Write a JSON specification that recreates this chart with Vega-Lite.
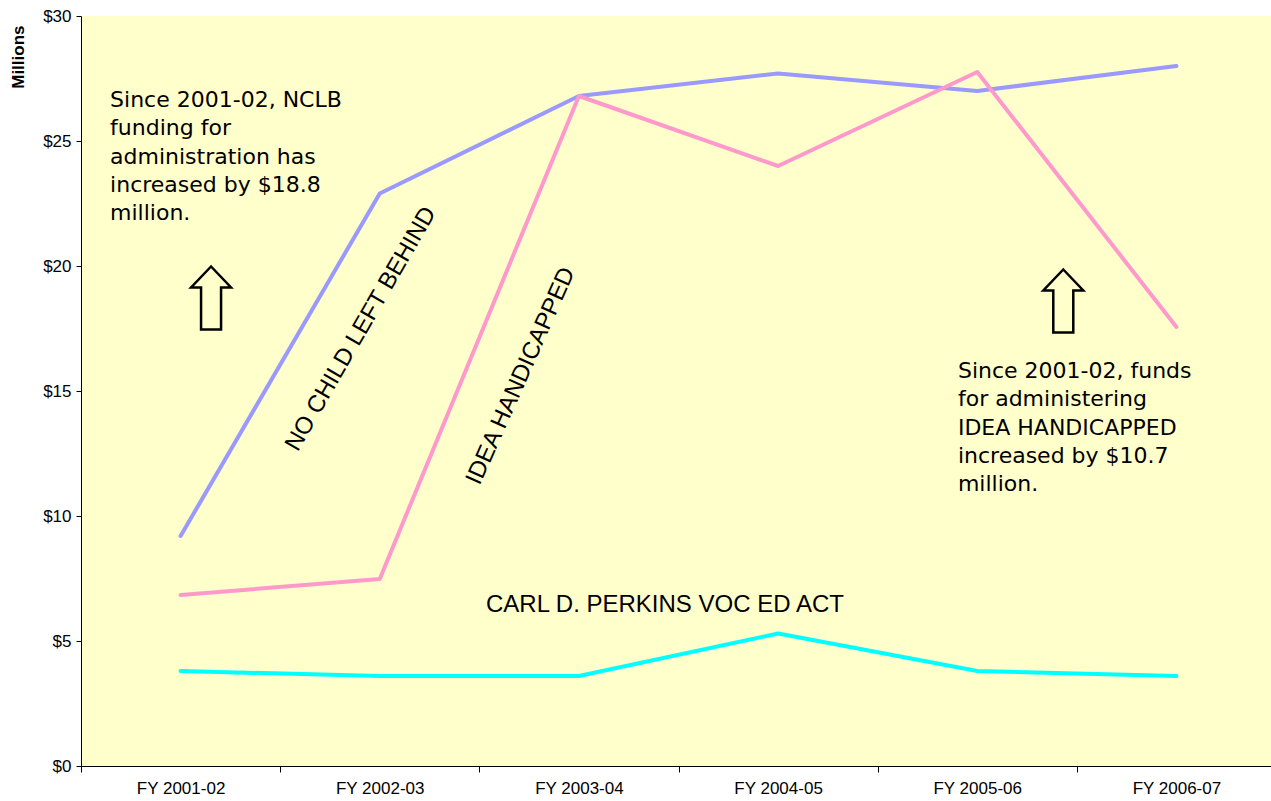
{
  "$schema": "https://vega.github.io/schema/vega-lite/v6.json",
  "width": 1190,
  "height": 750,
  "autosize": {"type": "none"},
  "padding": {"left": 81, "top": 16, "right": 0, "bottom": 35},
  "background": "white",
  "config": {
    "view": {"fill": "#FFFFCC", "stroke": null},
    "axis": {"labelFont": "Liberation Sans", "titleFont": "Liberation Sans", "labelColor": "black", "titleColor": "black", "domainColor": "black", "tickColor": "black", "domainWidth": 1, "tickWidth": 1, "grid": false}
  },
  "datasets": {
    "series": [
      {"year": "FY 2001-02", "program": "CARL D. PERKINS VOC ED ACT", "value": 3.8},
      {"year": "FY 2002-03", "program": "CARL D. PERKINS VOC ED ACT", "value": 3.6},
      {"year": "FY 2003-04", "program": "CARL D. PERKINS VOC ED ACT", "value": 3.6},
      {"year": "FY 2004-05", "program": "CARL D. PERKINS VOC ED ACT", "value": 5.3},
      {"year": "FY 2005-06", "program": "CARL D. PERKINS VOC ED ACT", "value": 3.8},
      {"year": "FY 2006-07", "program": "CARL D. PERKINS VOC ED ACT", "value": 3.6},
      {"year": "FY 2001-02", "program": "NO CHILD LEFT BEHIND", "value": 9.2},
      {"year": "FY 2002-03", "program": "NO CHILD LEFT BEHIND", "value": 22.9},
      {"year": "FY 2003-04", "program": "NO CHILD LEFT BEHIND", "value": 26.8},
      {"year": "FY 2004-05", "program": "NO CHILD LEFT BEHIND", "value": 27.7},
      {"year": "FY 2005-06", "program": "NO CHILD LEFT BEHIND", "value": 27.0},
      {"year": "FY 2006-07", "program": "NO CHILD LEFT BEHIND", "value": 28.0},
      {"year": "FY 2001-02", "program": "IDEA HANDICAPPED", "value": 6.84},
      {"year": "FY 2002-03", "program": "IDEA HANDICAPPED", "value": 7.48},
      {"year": "FY 2003-04", "program": "IDEA HANDICAPPED", "value": 26.8},
      {"year": "FY 2004-05", "program": "IDEA HANDICAPPED", "value": 24.0},
      {"year": "FY 2005-06", "program": "IDEA HANDICAPPED", "value": 27.76},
      {"year": "FY 2006-07", "program": "IDEA HANDICAPPED", "value": 17.56}
    ]
  },
  "layer": [
    {
      "mark": {"type": "rule", "color": "#888888", "strokeWidth": 2},
      "encoding": {"y": {"datum": 30, "type": "quantitative"}}
    },
    {
      "data": {"name": "series"},
      "mark": {"type": "line", "strokeWidth": 4, "strokeCap": "round", "strokeJoin": "round"},
      "encoding": {
        "x": {
          "field": "year", "type": "ordinal", "bandPosition": 0.5,
          "scale": {"type": "band", "domain": ["FY 2001-02", "FY 2002-03", "FY 2003-04", "FY 2004-05", "FY 2005-06", "FY 2006-07"], "range": [0, 1195], "paddingInner": 0, "paddingOuter": 0},
          "axis": {"title": null, "tickBand": "extent", "labelAngle": 0, "tickSize": 6, "labelPadding": 8, "labelFontSize": 17}
        },
        "y": {
          "field": "value", "type": "quantitative",
          "scale": {"domain": [0, 30]},
          "axis": {"values": [0, 5, 10, 15, 20, 25, 30], "labelExpr": "'$' + datum.value", "tickSize": 5, "labelPadding": 5, "labelFontSize": 17, "title": "Millions", "titleFontSize": 17, "titleFontWeight": "bold", "titleAngle": -90, "titleAlign": "right", "titleBaseline": "alphabetic", "titleX": -58, "titleY": 9}
        },
        "color": {
          "field": "program", "type": "nominal",
          "scale": {"domain": ["CARL D. PERKINS VOC ED ACT", "NO CHILD LEFT BEHIND", "IDEA HANDICAPPED"], "range": ["#00FFFF", "#9999FF", "#FF99CC"]},
          "legend": null
        }
      }
    },
    {
      "data": {"values": [{"year": "FY 2001-02", "value": 26.36, "label": "Since 2001-02, NCLB\nfunding for\nadministration has\nincreased by $18.8\nmillion."}]},
      "mark": {"type": "text", "align": "left", "baseline": "alphabetic", "font": "DejaVu Sans", "fontSize": 22, "lineHeight": 28.3, "lineBreak": "\n", "color": "black"},
      "encoding": {
        "x": {"field": "year", "type": "ordinal", "bandPosition": 0.146},
        "y": {"field": "value", "type": "quantitative"},
        "text": {"field": "label"}
      }
    },
    {
      "data": {"values": [{"year": "FY 2005-06", "value": 15.52, "label": "Since 2001-02, funds\nfor administering\nIDEA HANDICAPPED\nincreased by $10.7\nmillion."}]},
      "mark": {"type": "text", "align": "left", "baseline": "alphabetic", "font": "DejaVu Sans", "fontSize": 22, "lineHeight": 28.3, "lineBreak": "\n", "color": "black"},
      "encoding": {
        "x": {"field": "year", "type": "ordinal", "bandPosition": 0.403},
        "y": {"field": "value", "type": "quantitative"},
        "text": {"field": "label"}
      }
    },
    {
      "data": {"values": [{"year": "FY 2002-03", "value": 17.48, "label": "NO CHILD LEFT BEHIND"}]},
      "mark": {"type": "text", "align": "center", "baseline": "middle", "font": "Liberation Sans", "fontSize": 24, "angle": -60, "color": "black"},
      "encoding": {
        "x": {"field": "year", "type": "ordinal", "bandPosition": 0.406},
        "y": {"field": "value", "type": "quantitative"},
        "text": {"field": "label"}
      }
    },
    {
      "data": {"values": [{"year": "FY 2003-04", "value": 15.6, "label": "IDEA HANDICAPPED"}]},
      "mark": {"type": "text", "align": "center", "baseline": "middle", "font": "Liberation Sans", "fontSize": 24, "angle": -66, "color": "black"},
      "encoding": {
        "x": {"field": "year", "type": "ordinal", "bandPosition": 0.209},
        "y": {"field": "value", "type": "quantitative"},
        "text": {"field": "label"}
      }
    },
    {
      "data": {"values": [{"year": "FY 2003-04", "value": 6.16, "label": "CARL D. PERKINS VOC ED ACT"}]},
      "mark": {"type": "text", "align": "center", "baseline": "alphabetic", "font": "Liberation Sans", "fontSize": 24, "color": "black"},
      "encoding": {
        "x": {"field": "year", "type": "ordinal", "bandPosition": 0.932},
        "y": {"field": "value", "type": "quantitative"},
        "text": {"field": "label"}
      }
    },
    {
      "data": {"values": [{"year": "FY 2001-02", "value": 18.72}]},
      "mark": {"type": "point", "shape": "M0,-1.575L1,-0.525L0.5,-0.525L0.5,1.575L-0.5,1.575L-0.5,-0.525L-1,-0.525Z", "size": 1600, "filled": false, "stroke": "black", "strokeWidth": 2.5, "opacity": 1},
      "encoding": {
        "x": {"field": "year", "type": "ordinal", "bandPosition": 0.653},
        "y": {"field": "value", "type": "quantitative"}
      }
    },
    {
      "data": {"values": [{"year": "FY 2005-06", "value": 18.6}]},
      "mark": {"type": "point", "shape": "M0,-1.575L1,-0.525L0.5,-0.525L0.5,1.575L-0.5,1.575L-0.5,-0.525L-1,-0.525Z", "size": 1600, "filled": false, "stroke": "black", "strokeWidth": 2.5, "opacity": 1},
      "encoding": {
        "x": {"field": "year", "type": "ordinal", "bandPosition": 0.932},
        "y": {"field": "value", "type": "quantitative"}
      }
    }
  ]
}
